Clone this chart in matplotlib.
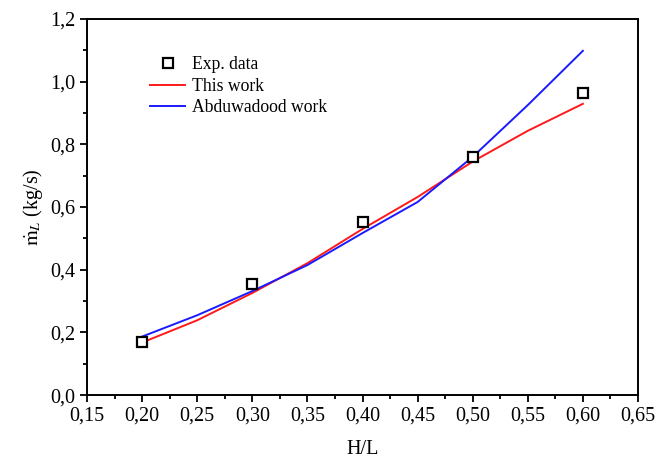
import numpy as np
import matplotlib
matplotlib.use("Agg")
import matplotlib.pyplot as plt
from matplotlib.ticker import MultipleLocator, FuncFormatter

# datas
hl = [0.20, 0.30, 0.40, 0.50, 0.60]
exp_data = [0.169, 0.354, 0.553, 0.758, 0.963]

hl_fine = [0.20, 0.25, 0.30, 0.35, 0.40, 0.45, 0.50, 0.55, 0.60]
this_work = [0.168, 0.239, 0.326, 0.421, 0.530, 0.632, 0.745, 0.843, 0.929]
abduwadood = [0.187, 0.255, 0.332, 0.415, 0.517, 0.616, 0.760, 0.925, 1.098]

plt.rcParams['font.family'] = ['Liberation Serif', 'DejaVu Serif']
plt.rcParams['mathtext.fontset'] = 'stix'

fig = plt.figure(figsize=(6.55, 4.59), dpi=100)
ax = fig.add_axes([0.133, 0.139, 0.841, 0.820])

# plotting
ax.plot(hl, exp_data, linestyle='none', marker='s', markersize=7.5,
        markerfacecolor='white', markeredgecolor='black', markeredgewidth=1.6,
        label='Exp. data', zorder=3)
ax.plot(hl_fine, this_work, color='#ff1a1a', linewidth=1.4, label='This work')
ax.plot(hl_fine, abduwadood, color='#1a1aff', linewidth=1.4, label='Abduwadood work')

# styling
ax.set_xlim(0.15, 0.65)
ax.set_ylim(0.0, 1.2)
ax.xaxis.set_major_locator(MultipleLocator(0.05))
ax.xaxis.set_minor_locator(MultipleLocator(0.025))
ax.yaxis.set_major_locator(MultipleLocator(0.2))
ax.yaxis.set_minor_locator(MultipleLocator(0.1))
ax.xaxis.set_major_formatter(FuncFormatter(lambda v, p: f"{v:.2f}".replace('.', ',')))
ax.yaxis.set_major_formatter(FuncFormatter(lambda v, p: f"{v:.1f}".replace('.', ',')))
ax.tick_params(which='both', direction='out', labelsize=14.5, width=1.3)
ax.tick_params(which='major', length=5)
ax.tick_params(which='minor', length=3)
for s in ax.spines.values():
    s.set_linewidth(1.4)

ax.set_xlabel('H/L', fontsize=14.5, labelpad=10)
ax.set_ylabel(r'$\dot{\mathrm{m}}_L$ (kg/s)', fontsize=14.5, labelpad=4)

ax.legend(loc='upper left', bbox_to_anchor=(0.114, 0.900), frameon=False,
          fontsize=12.7, handlelength=2.0, handletextpad=0.4, labelspacing=0.25,
          borderpad=0, borderaxespad=0)

# save
fig.savefig('out.png', dpi=100)
plt.close('all')
